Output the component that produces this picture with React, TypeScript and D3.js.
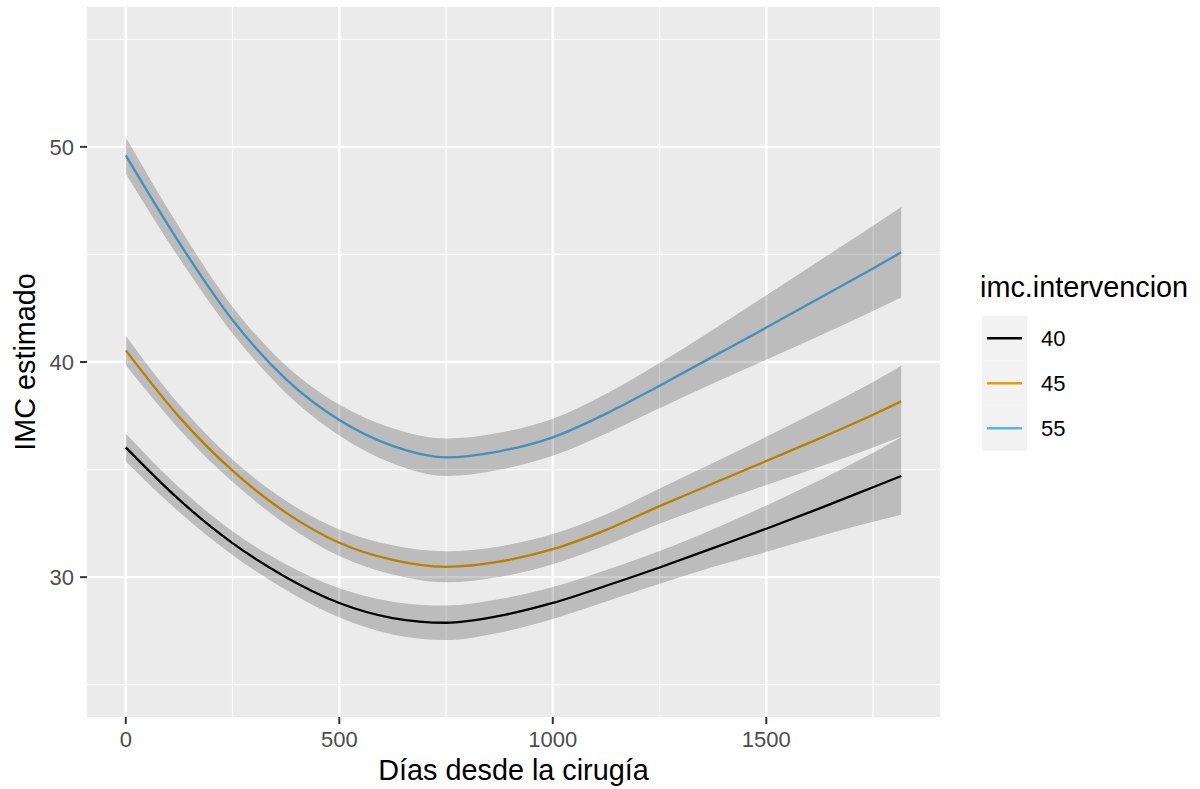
import React from "react";
import * as d3 from "d3";

const days = [0, 125, 250, 375, 500, 625, 750, 875, 1000, 1125, 1250, 1375, 1500, 1625, 1750, 1816];
const imc40 = [36.03, 33.6, 31.58, 30.0, 28.8, 28.1, 27.88, 28.2, 28.8, 29.6, 30.45, 31.35, 32.25, 33.2, 34.18, 34.7];
const imc45 = [40.54, 37.45, 34.95, 33.0, 31.6, 30.8, 30.48, 30.72, 31.3, 32.2, 33.3, 34.35, 35.4, 36.45, 37.55, 38.17];
const imc55 = [49.6, 45.55, 41.95, 39.2, 37.3, 36.1, 35.57, 35.85, 36.5, 37.6, 38.9, 40.25, 41.6, 42.97, 44.35, 45.1];
const se40 = [0.65, 0.57, 0.55, 0.6, 0.68, 0.76, 0.8, 0.78, 0.74, 0.73, 0.76, 0.88, 1.08, 1.3, 1.6, 1.8];
const se45 = [0.68, 0.57, 0.52, 0.55, 0.62, 0.68, 0.72, 0.71, 0.7, 0.72, 0.82, 0.95, 1.12, 1.32, 1.52, 1.65];
const se55 = [0.85, 0.72, 0.62, 0.64, 0.72, 0.82, 0.87, 0.86, 0.86, 0.92, 1.05, 1.25, 1.5, 1.75, 1.98, 2.1];
const groups = ["40", "45", "55"];
const groupColors = ["#000000", "#E69F00", "#56B4E9"];
const xTicks = [0, 500, 1000, 1500];
const xMinor = [250, 750, 1250, 1750];
const yTicks = [30, 40, 50];
const yMinor = [25, 35, 45, 55];

const W = 1200, H = 789;
const P = { left: 87, right: 940, top: 7, bottom: 717 };
const FONT = "'Liberation Sans', Arial, sans-serif";

export default function App() {
  const x = d3.scaleLinear().domain([-90.8, 1906.8]).range([P.left, P.right]);
  const y = d3.scaleLinear().domain([23.5, 56.5]).range([P.bottom, P.top]);
  const series = [
    { name: groups[0], vals: imc40, se: se40, color: groupColors[0] },
    { name: groups[1], vals: imc45, se: se45, color: groupColors[1] },
    { name: groups[2], vals: imc55, se: se55, color: groupColors[2] },
  ];
  const line = d3
    .line<number>()
    .x((_, i) => x(days[i]))
    .y((d) => y(d))
    .curve(d3.curveMonotoneX);
  const mkArea = (vals: number[], se: number[]) =>
    d3
      .area<number>()
      .x((_, i) => x(days[i]))
      .y0((d, i) => y(d - se[i]))
      .y1((d, i) => y(d + se[i]))
      .curve(d3.curveMonotoneX)(vals) || "";

  return (
    <svg width={W} height={H} style={{ position: "absolute", left: 0, top: 0, background: "#fff" }}>
      <rect x={P.left} y={P.top} width={P.right - P.left} height={P.bottom - P.top} fill="#EBEBEB" />
      {yMinor.map((t) => (
        <line key={"ym" + t} x1={P.left} x2={P.right} y1={y(t)} y2={y(t)} stroke="#fff" strokeWidth={1.2} />
      ))}
      {xMinor.map((t) => (
        <line key={"xm" + t} x1={x(t)} x2={x(t)} y1={P.top} y2={P.bottom} stroke="#fff" strokeWidth={1.2} />
      ))}
      {yTicks.map((t) => (
        <line key={"yM" + t} x1={P.left} x2={P.right} y1={y(t)} y2={y(t)} stroke="#fff" strokeWidth={2.4} />
      ))}
      {xTicks.map((t) => (
        <line key={"xM" + t} x1={x(t)} x2={x(t)} y1={P.top} y2={P.bottom} stroke="#fff" strokeWidth={2.4} />
      ))}
      {series.map((s) => (
        <path key={"l" + s.name} d={line(s.vals) || ""} fill="none" stroke={s.color} strokeWidth={2.3} />
      ))}
      {series.map((s) => (
        <path key={"r" + s.name} d={mkArea(s.vals, s.se)} fill="#000" fillOpacity={0.2} />
      ))}
      {yTicks.map((t) => (
        <g key={"yt" + t}>
          <line x1={P.left - 7} x2={P.left} y1={y(t)} y2={y(t)} stroke="#333" strokeWidth={2} />
          <text x={P.left - 13} y={y(t)} dy="0.36em" textAnchor="end" fontSize={22} fill="#4D4D4D" fontFamily={FONT}>
            {t}
          </text>
        </g>
      ))}
      {xTicks.map((t) => (
        <g key={"xt" + t}>
          <line x1={x(t)} x2={x(t)} y1={P.bottom} y2={P.bottom + 7} stroke="#333" strokeWidth={2} />
          <text x={x(t)} y={747} textAnchor="middle" fontSize={22} fill="#4D4D4D" fontFamily={FONT}>
            {t}
          </text>
        </g>
      ))}
      <text x={(P.left + P.right) / 2} y={780} textAnchor="middle" fontSize={28.8} fill="#000" fontFamily={FONT}>
        Días desde la cirugía
      </text>
      <text
        transform={`translate(35,${(P.top + P.bottom) / 2}) rotate(-90)`}
        textAnchor="middle"
        fontSize={28.8}
        fill="#000"
        fontFamily={FONT}
      >
        IMC estimado
      </text>
      <text x={980} y={297} fontSize={28.8} fill="#000" fontFamily={FONT}>
        imc.intervencion
      </text>
      {series.map((s, i) => {
        const cy = 338.3 + i * 45;
        return (
          <g key={"lg" + s.name}>
            <rect x={982} y={cy - 22.5} width={45} height={45} fill="#F2F2F2" />
            <line x1={987} x2={1022} y1={cy} y2={cy} stroke={s.color} strokeWidth={2.4} />
            <text x={1041} y={cy} dy="0.36em" fontSize={22} fill="#000" fontFamily={FONT}>
              {s.name}
            </text>
          </g>
        );
      })}
    </svg>
  );
}
